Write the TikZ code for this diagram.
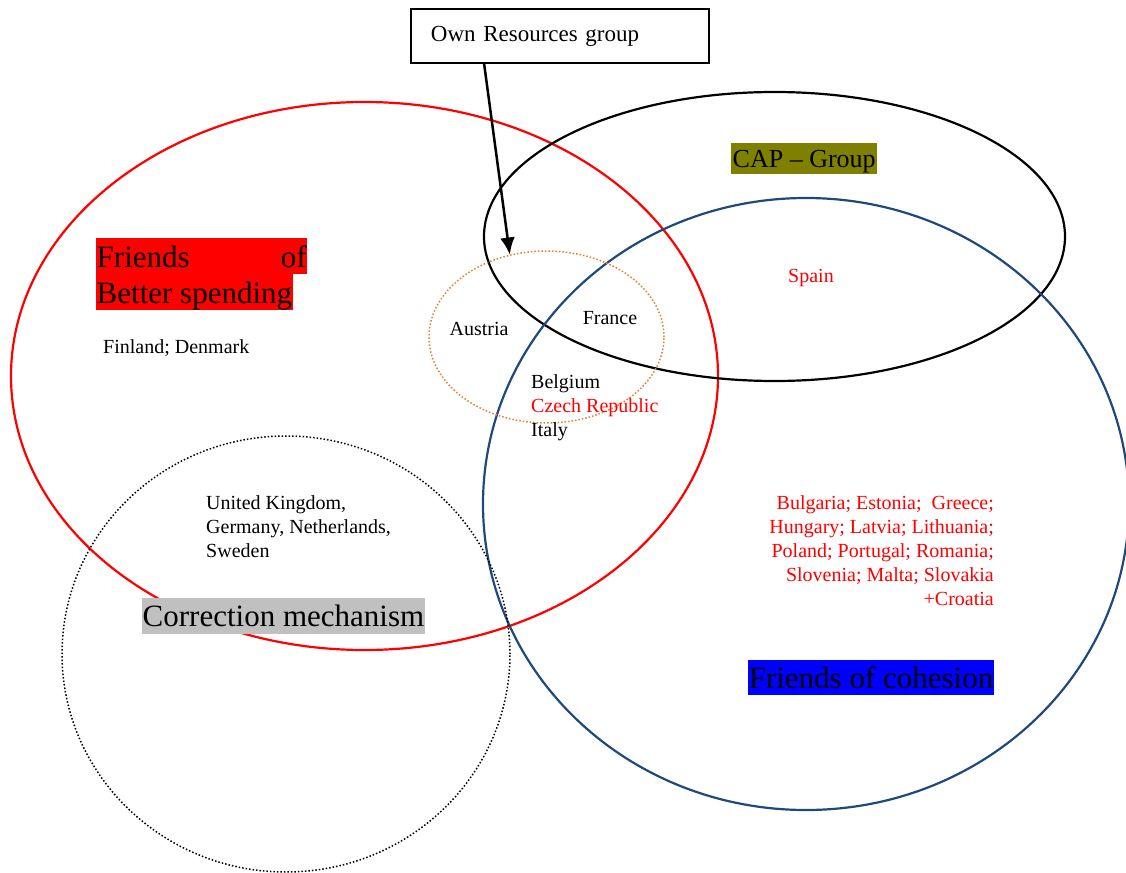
\documentclass[tikz,border=0pt]{standalone}
\usepackage{fontspec}
\setmainfont{Liberation Serif}
\usetikzlibrary{shapes.geometric,arrows.meta}
\definecolor{cohblue}{RGB}{31,73,125}
\definecolor{dotorange}{RGB}{237,125,49}
\definecolor{capolive}{RGB}{128,128,0}
\definecolor{corrgrey}{RGB}{192,192,192}
\begin{document}
\begin{tikzpicture}[x=1pt,y=-1pt,
  venn/.style={ellipse, draw, inner sep=0pt, line width=2.2pt},
  dotvenn/.style={ellipse, draw, dotted, inner sep=0pt, line width=1.5pt},
  body/.style={font=\fontsize{20}{24}\selectfont, inner sep=0pt},
  big/.style={font=\fontsize{31}{36}\selectfont, inner ysep=0pt, inner xsep=0.5pt}]
\useasboundingbox (0,0) rectangle (1126,872);
% group outlines
\node[venn, draw=red, minimum width=707pt, minimum height=548pt] (better) at (364.5,376) {};
\node[venn, draw=black, minimum width=581pt, minimum height=289pt] (cap) at (774.5,236.5) {};
\node[venn, draw=cohblue, minimum width=646pt, minimum height=612pt] (cohesion) at (806,504) {};
\node[dotvenn, draw=black, minimum width=448pt, minimum height=436pt] (corr) at (286,654) {};
\node[dotvenn, draw=dotorange, minimum width=235pt, minimum height=172pt] (own) at (546.5,337) {};
% own resources box and arrow
\node[draw, line width=1.8pt, anchor=west, text width=258pt, inner xsep=20pt, inner ysep=0pt,
      minimum height=54pt, align=left, font=\fontsize{23}{27}\selectfont] (ownbox) at (410,36) {Own Resources group};
\coordinate (astart) at (484,63);
\draw[line width=2.5pt, -{Latex[length=17pt,width=15pt]}] (astart) -- (own.114);
% group labels
\node[big, fill=red, anchor=base west, text height=29pt, text depth=7pt] (fb1) at (96,267) {\makebox[210pt][l]{Friends\hfill of}};
\node[big, fill=red, anchor=base west, text height=29pt, text depth=7pt] (fb2) at (96,303) {Better spending};
\node[font=\fontsize{26}{30}\selectfont, fill=capolive, inner ysep=0pt, inner xsep=1.5pt, text height=24pt, text depth=7pt, anchor=base west] (caplabel) at (731,167) {CAP – Group};
\node[big, fill=corrgrey, anchor=base west, text height=28pt, text depth=8pt] (corrlabel) at (142,626) {Correction mechanism};
\node[big, fill=blue, anchor=base east, text height=28pt, text depth=7pt] (cohlabel) at (994,688) {Friends of cohesion};
% member states
\node[body, anchor=base west] (fin) at (103,353) {Finland; Denmark};
\node[body, anchor=base] (aut) at (479,335) {Austria};
\node[body, anchor=base] (fra) at (610,324) {France};
\node[body, anchor=base, text=red] (esp) at (811,282) {Spain};
\node[body, anchor=north west, align=left] (bci) at (531,374) {Belgium\\\textcolor{red}{Czech Republic}\\Italy};
\node[body, anchor=north west, align=left] (ukg) at (206,495) {United Kingdom,\\Germany, Netherlands,\\Sweden};
\node[body, anchor=north east, align=right, text=red] (coh) at (994,495) {Bulgaria; Estonia;\ \ Greece;\\Hungary; Latvia; Lithuania;\\Poland; Portugal; Romania;\\Slovenia; Malta; Slovakia\\+Croatia};
\end{tikzpicture}
\end{document}
